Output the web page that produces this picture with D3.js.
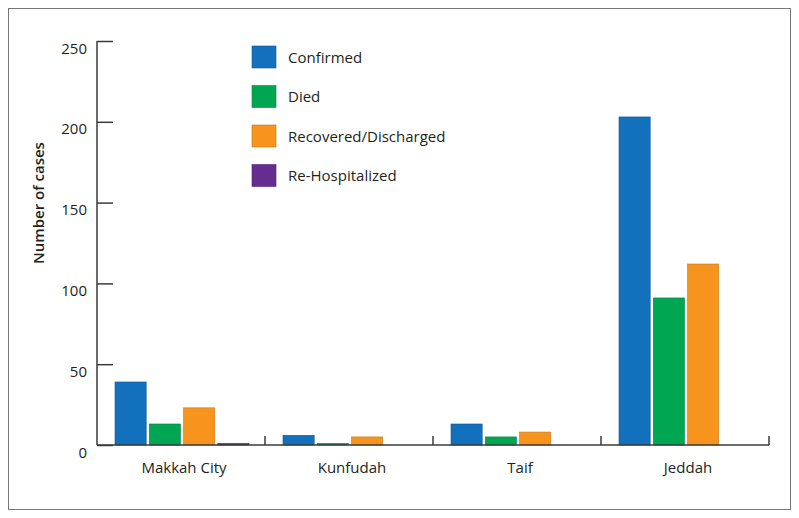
<!DOCTYPE html>
<html><head><meta charset="utf-8">
<script src="https://cdn.jsdelivr.net/npm/d3@7"></script>
<style>body{margin:0;background:#fff}svg{display:block}text{font-family:"Open Sans",sans-serif;fill:#231f20}</style>
</head><body>
<script>
const categories = ["Makkah City", "Kunfudah", "Taif", "Jeddah"];
const seriesNames = ["Confirmed", "Died", "Recovered/Discharged", "Re-Hospitalized"];
const confirmed = [39, 6, 13, 203];
const died = [13, 1, 5, 91];
const recovered = [23, 5, 8, 112];
const rehospitalized = [1, 0, 0, 0];
const yTicks = [0, 50, 100, 150, 200, 250];
const colors = ["#1270bd", "#00a651", "#f7941d", "#662d91"];

const values = [confirmed, died, recovered, rehospitalized];
const W = 799, H = 518;
const svg = d3.select("body").append("svg").attr("width", W).attr("height", H);
svg.append("rect").attr("x", 8.5).attr("y", 8.5).attr("width", 782).attr("height", 501)
  .attr("fill", "none").attr("stroke", "#777").attr("stroke-width", 1);

const x0 = d3.scaleBand().domain(categories).range([97, 769]);
const x1 = d3.scaleBand().domain(seriesNames).range([18, 152]).paddingInner(0.09);
const y = d3.scaleLinear().domain([0, 250]).range([445, 41]);

const g = svg.append("g");
categories.forEach((c, i) => {
  seriesNames.forEach((s, j) => {
    const v = values[j][i];
    if (v <= 0) return;
    g.append("rect")
      .attr("x", x0(c) + x1(s)).attr("y", y(v))
      .attr("width", x1.bandwidth()).attr("height", y(0) - y(v))
      .attr("fill", colors[j]).attr("stroke", d3.color(colors[j]).darker(0.6)).attr("stroke-width", 0.6);
  });
});

// y axis
const yAxis = d3.axisRight(y).tickValues(yTicks).tickSize(16).tickFormat("");
const ya = svg.append("g").attr("transform", "translate(97,0)").call(yAxis);
ya.select(".domain").attr("stroke", "#3a3a3a").attr("stroke-width", 1.5).attr("d", `M0,${y(250)}V${y(0)}`);
ya.selectAll(".tick line").attr("stroke", "#3a3a3a").attr("stroke-width", 1.5);
yTicks.forEach(t => {
  svg.append("text").attr("x", 87).attr("y", y(t) + 12.5).attr("text-anchor", "end")
    .attr("font-size", 15).text(t);
});

// x axis
const xa = svg.append("g");
xa.append("line").attr("x1", 97).attr("x2", 769).attr("y1", y(0)).attr("y2", y(0))
  .attr("stroke", "#3a3a3a").attr("stroke-width", 1.5);
categories.forEach((c, i) => {
  const xe = x0(c) + x0.bandwidth();
  xa.append("line").attr("x1", xe).attr("x2", xe).attr("y1", y(0)).attr("y2", y(0) - 9)
    .attr("stroke", "#3a3a3a").attr("stroke-width", 1.5);
  xa.append("text").attr("x", x0(c) + x0.bandwidth() / 2 + 3).attr("y", 473)
    .attr("text-anchor", "middle").attr("font-size", 15).text(c);
});

svg.append("text").attr("transform", "translate(44,203) rotate(-90)")
  .attr("text-anchor", "middle").attr("font-size", 15).attr("font-weight", 600).text("Number of cases");

// legend
seriesNames.forEach((s, j) => {
  const ly = 46 + j * 39.5;
  svg.append("rect").attr("x", 252).attr("y", ly).attr("width", 24).attr("height", 22)
    .attr("fill", colors[j]).attr("stroke", d3.color(colors[j]).darker(0.6)).attr("stroke-width", 0.6);
  svg.append("text").attr("x", 288).attr("y", ly + 16.5).attr("font-size", 15).text(s);
});
</script>
</body></html>
